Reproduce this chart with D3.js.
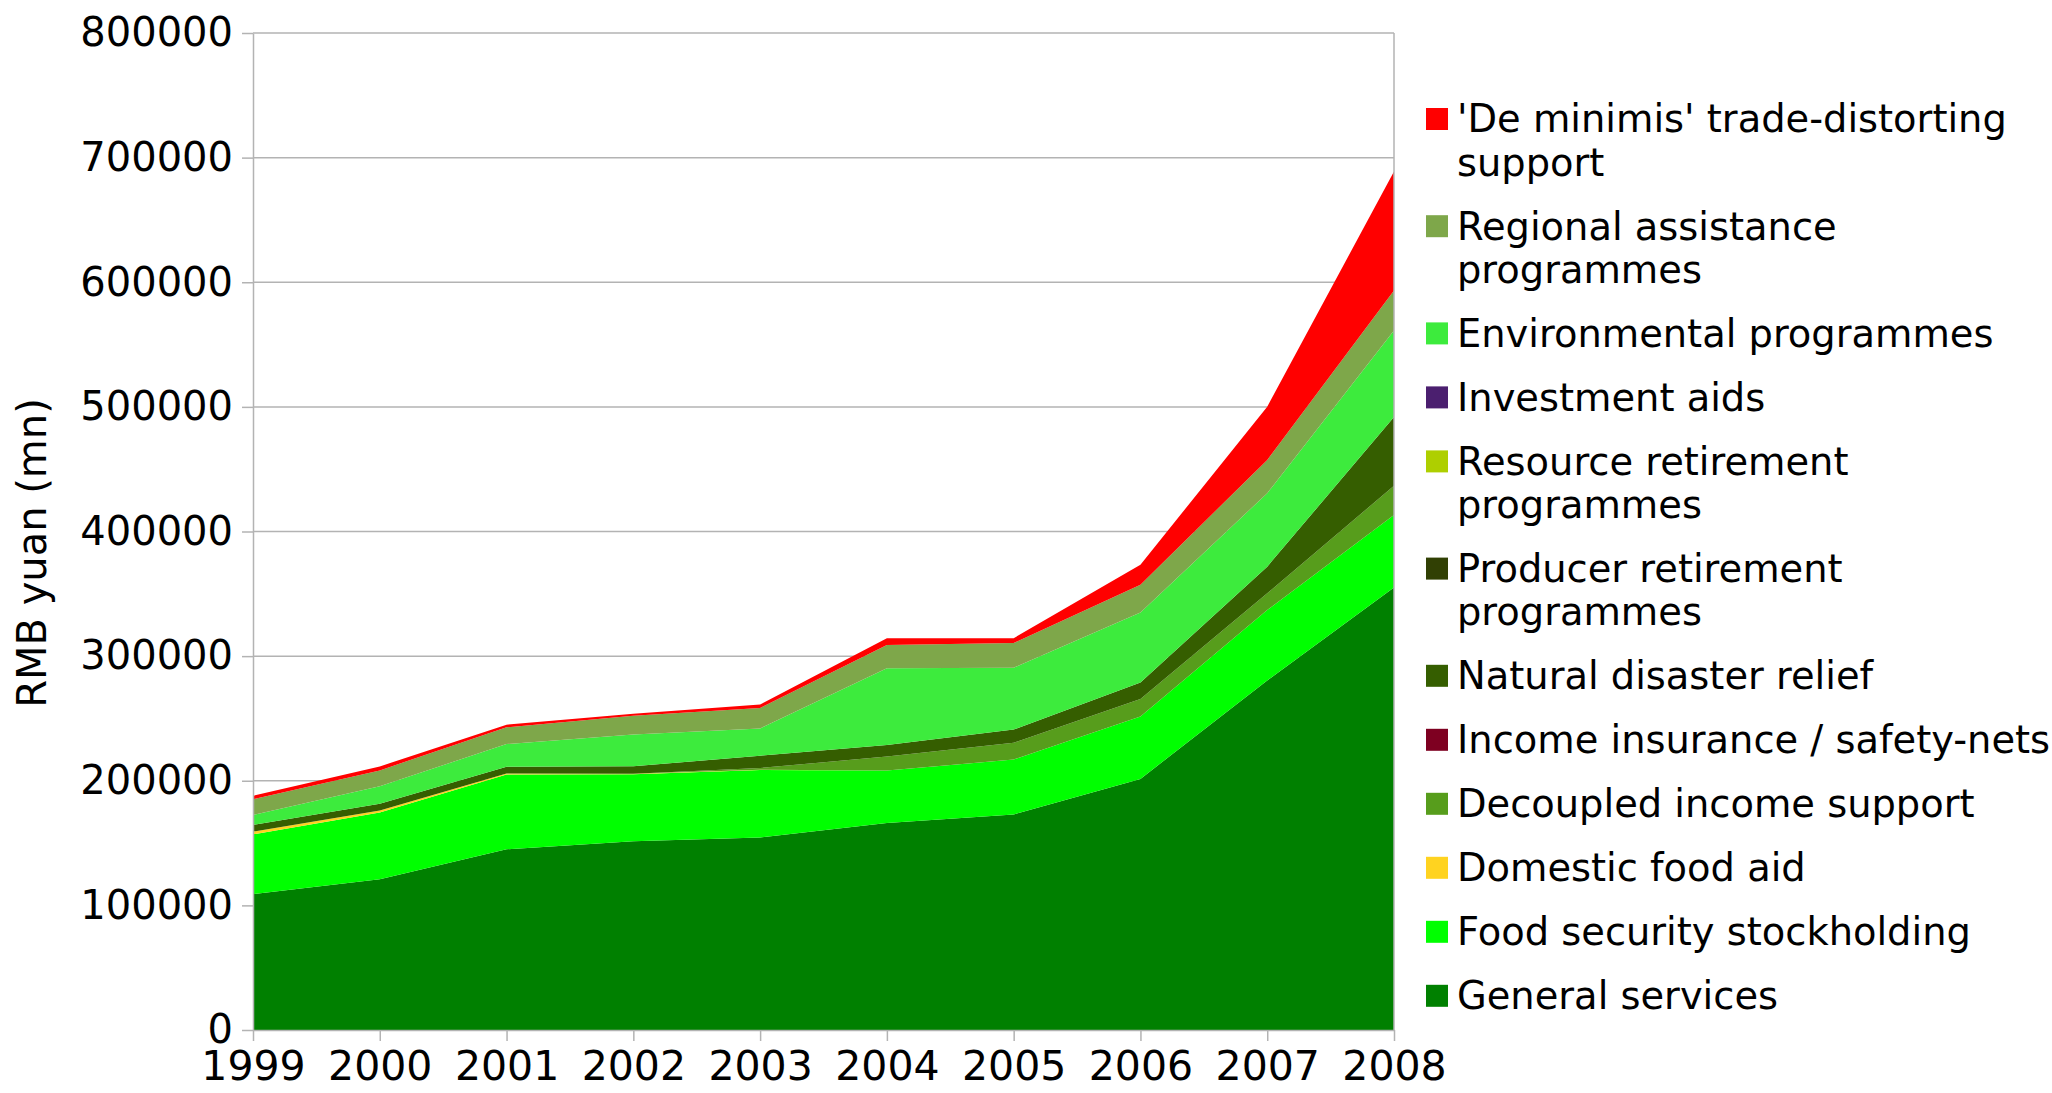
<!DOCTYPE html>
<html>
<head>
<meta charset="utf-8">
<script src="https://cdn.jsdelivr.net/npm/d3@7"></script>
<style>
  body { margin: 0; background: #fff; }
  svg { display: block; font-family: "DejaVu Sans", sans-serif; }
</style>
</head>
<body>
<div id="chart"></div>
<script>
// years on the x axis
const years = [1999, 2000, 2001, 2002, 2003, 2004, 2005, 2006, 2007, 2008];

// values per category, RMB yuan (mn)
const generalServices    = [109000, 121000, 145000, 151500, 154500, 166000, 173000, 201500, 280500, 355000];
const foodSecurity       = [48000, 53500, 60000, 53700, 54100, 42200, 44000, 50000, 56500, 58300];
const domesticFoodAid    = [2200, 1700, 900, 500, 300, 0, 0, 0, 0, 0];
const decoupledIncome    = [0, 0, 0, 0, 1300, 11200, 13400, 14000, 13400, 23400];
const incomeInsurance    = [0, 0, 0, 0, 0, 0, 0, 0, 0, 0];
const naturalDisaster    = [5400, 5400, 5400, 5900, 9900, 9300, 10700, 13400, 21400, 55200];
const producerRetirement = [0, 0, 0, 0, 0, 0, 0, 0, 0, 0];
const resourceRetirement = [0, 0, 0, 0, 0, 0, 0, 0, 0, 0];
const investmentAids     = [0, 0, 0, 0, 0, 0, 0, 0, 0, 0];
const environmental      = [8000, 13900, 18200, 25600, 21900, 61500, 49600, 56200, 58900, 69300];
const regional           = [12600, 12800, 13400, 15000, 16400, 18700, 19800, 22200, 26700, 32100];
const deMinimis          = [2700, 3200, 2100, 1600, 2700, 5400, 3900, 16000, 42800, 95500];

// category names, bottom of the stack first
const categories = [
  "General services",
  "Food security stockholding",
  "Domestic food aid",
  "Decoupled income support",
  "Income insurance / safety-nets",
  "Natural disaster relief",
  "Producer retirement programmes",
  "Resource retirement programmes",
  "Investment aids",
  "Environmental programmes",
  "Regional assistance programmes",
  "'De minimis' trade-distorting support"
];
const seriesValues = [generalServices, foodSecurity, domesticFoodAid, decoupledIncome, incomeInsurance,
  naturalDisaster, producerRetirement, resourceRetirement, investmentAids, environmental, regional, deMinimis];

// y axis tick values
const yTicks = [0, 100000, 200000, 300000, 400000, 500000, 600000, 700000, 800000];

// set the dimensions and margins of the graph
const W = 2052, H = 1093;
const margin = { top: 33, right: 658, bottom: 63, left: 253 };

const svg = d3.select("#chart")
  .append("svg")
  .attr("width", W)
  .attr("height", H);

// rows for the stack layout
const table = years.map((yr, i) => {
  const row = { year: yr };
  categories.forEach((c, k) => { row[c] = seriesValues[k][i]; });
  return row;
});

const color = d3.scaleOrdinal()
  .domain(categories)
  .range(["#008000", "#00ff00", "#ffd320", "#579d1c", "#7e0021", "#355e00",
          "#314004", "#aecf00", "#4b1f6f", "#3deb3d", "#7ea74a", "#ff0000"]);

const x = d3.scaleLinear()
  .domain([1999, 2008])
  .range([margin.left, W - margin.right]);

const y = d3.scaleLinear()
  .domain([0, 800000])
  .range([H - margin.bottom, margin.top]);

// horizontal grid lines
svg.append("g")
  .selectAll("line")
  .data(yTicks)
  .join("line")
  .attr("x1", margin.left)
  .attr("x2", W - margin.right)
  .attr("y1", d => y(d))
  .attr("y2", d => y(d))
  .attr("stroke", "#b3b3b3")
  .attr("stroke-width", 1.5);

// stacked areas
const stacked = d3.stack().keys(categories)(table);

const area = d3.area()
  .x(d => x(d.data.year))
  .y0(d => y(d[0]))
  .y1(d => y(d[1]));

svg.append("g")
  .selectAll("path")
  .data(stacked)
  .join("path")
  .attr("fill", d => color(d.key))
  .attr("d", area);

// right border of the plot
svg.append("line")
  .attr("x1", W - margin.right).attr("x2", W - margin.right)
  .attr("y1", margin.top).attr("y2", H - margin.bottom)
  .attr("stroke", "#b3b3b3")
  .attr("stroke-width", 1.5);

// y axis
const yAxis = svg.append("g")
  .attr("transform", `translate(${margin.left},0)`)
  .call(d3.axisLeft(y).tickValues(yTicks).tickSize(11).tickSizeOuter(0).tickPadding(9).tickFormat(d3.format("d")));

// x axis
const xAxis = svg.append("g")
  .attr("transform", `translate(0,${H - margin.bottom})`)
  .call(d3.axisBottom(x).tickValues(years).tickSize(11).tickSizeOuter(0).tickPadding(10).tickFormat(d3.format("d")));

[yAxis, xAxis].forEach(a => {
  a.selectAll("path, line").attr("stroke", "#b3b3b3").attr("stroke-width", 1.5);
  a.selectAll("text").attr("fill", "#000").style("font-family", "DejaVu Sans");
});
yAxis.selectAll("text").style("font-size", "40px");
xAxis.selectAll("text").style("font-size", "41px");

// y axis title
svg.append("text")
  .attr("transform", "translate(46,553) rotate(-90)")
  .attr("text-anchor", "middle")
  .style("font-size", "40px")
  .text("RMB yuan (mn)");

// Legend: top entry is the top of the stack
const legendKeys = categories.slice().reverse();
const legend = svg.append("g");
let ly = 119;
const maxWidth = 625;

legendKeys.forEach(key => {
  const g = legend.append("g");
  g.append("rect")
    .attr("x", 1426)
    .attr("y", ly - 11)
    .attr("width", 22)
    .attr("height", 22)
    .attr("fill", color(key));

  // simple word wrap
  const txt = g.append("text")
    .attr("x", 1457)
    .attr("y", ly)
    .attr("dy", "0.35em")
    .style("font-size", "38.4px");
  const words = key.split(" ");
  let line = [];
  let tspan = txt.append("tspan").attr("x", 1457);
  let lines = 1;
  words.forEach(w => {
    line.push(w);
    tspan.text(line.join(" "));
    if (tspan.node().getComputedTextLength() > maxWidth && line.length > 1) {
      line.pop();
      tspan.text(line.join(" "));
      line = [w];
      tspan = txt.append("tspan").attr("x", 1457).attr("dy", 43.2).text(w);
      lines++;
    }
  });
  ly += (lines - 1) * 43.2 + 64;
});
</script>
</body>
</html>
